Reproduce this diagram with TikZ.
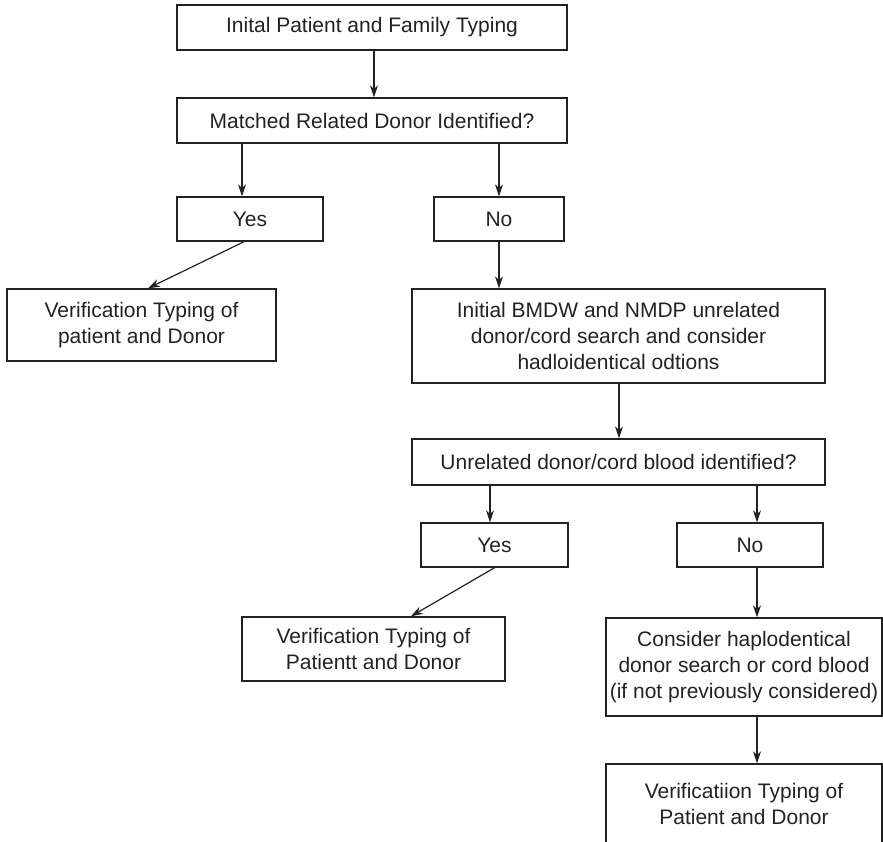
\documentclass[tikz,border=0pt]{standalone}
\usepackage{fontspec}
\setmainfont{Liberation Sans}
\usepackage{xcolor}
\usepackage{tikz}
\usetikzlibrary{positioning, arrows.meta, calc}
\definecolor{ink}{HTML}{222222}

\begin{document}
\begin{tikzpicture}[x=1pt,y=-1pt]
    \tikzset{box/.style={draw=ink,line width=1.4pt,text=ink,inner sep=0pt,align=center,font=\fontsize{21}{26}\selectfont}, ans/.style={box,minimum height=44pt}}
    \useasboundingbox (0,0) rectangle (883,841);
    \node[box,minimum width=390pt,minimum height=45pt] (a) at (372,27.5) {Inital Patient and Family Typing};
    \node[box,minimum width=390pt,minimum height=45pt] (b) at (372,120.5) {Matched Related Donor Identified?};
    \node[ans,minimum width=146pt] (c) at (250,219) {Yes};
    \node[ans,minimum width=130pt] (d) at (499,219) {No};
    \node[box,minimum width=269pt,minimum height=72pt] (e) at (141.5,325) {Verification Typing of\\patient and Donor};
    \node[box,minimum width=413pt,minimum height=94pt] (f) at (618.5,336) {Initial BMDW and NMDP unrelated\\donor/cord search and consider\\hadloidentical odtions};
    \node[box,minimum width=413pt,minimum height=46pt] (g) at (618.5,462) {Unrelated donor/cord blood identified?};
    \node[ans,minimum width=147pt] (h) at (494.5,545) {Yes};
    \node[ans,minimum width=146pt] (i) at (750,545) {No};
    \node[box,minimum width=263pt,minimum height=64pt] (j) at (373.5,649) {Verification Typing of\\Patientt and Donor};
    \node[box,minimum width=276pt,minimum height=98pt] (k) at (744,667) {Consider haplodentical\\donor search or cord blood\\(if not previously considered)};
    \node[box,minimum width=276pt,minimum height=80pt] (l) at (744,804) {Verificatiion Typing of\\Patient and Donor};
    \draw[-{Stealth[length=12pt,width=8pt]},line width=1.2pt,draw=ink] ([xshift=2pt]a.south) -- ([xshift=2pt]b.north);
    \draw[-{Stealth[length=12pt,width=8pt]},line width=1.2pt,draw=ink] ([xshift=-8pt]c.north |- b.south) -- ([xshift=-8pt]c.north);
    \draw[-{Stealth[length=12pt,width=8pt]},line width=1.2pt,draw=ink] (d.north |- b.south) -- (d.north);
    \draw[-{Stealth[length=12pt,width=8pt]},line width=1.2pt,draw=ink] ([xshift=-6pt]c.south) -- ([xshift=6.5pt]e.north);
    \draw[-{Stealth[length=12pt,width=8pt]},line width=1.2pt,draw=ink] (d.south) -- (d.south |- f.north);
    \draw[-{Stealth[length=12pt,width=8pt]},line width=1.2pt,draw=ink] ([xshift=0.5pt]f.south) -- ([xshift=0.5pt]g.north);
    \draw[-{Stealth[length=12pt,width=8pt]},line width=1.2pt,draw=ink] ([xshift=-4.5pt]h.north |- g.south) -- ([xshift=-4.5pt]h.north);
    \draw[-{Stealth[length=12pt,width=8pt]},line width=1.2pt,draw=ink] ([xshift=7pt]i.north |- g.south) -- ([xshift=7pt]i.north);
    \draw[-{Stealth[length=12pt,width=8pt]},line width=1.2pt,draw=ink] (h.south) -- ([xshift=37.5pt]j.north);
    \draw[-{Stealth[length=12pt,width=8pt]},line width=1.2pt,draw=ink] ([xshift=7pt]i.south) -- ([xshift=7pt]i.south |- k.north);
    \draw[-{Stealth[length=12pt,width=8pt]},line width=1.2pt,draw=ink] ([xshift=13pt]k.south) -- ([xshift=13pt]k.south |- l.north);
  \end{tikzpicture}
\end{document}
